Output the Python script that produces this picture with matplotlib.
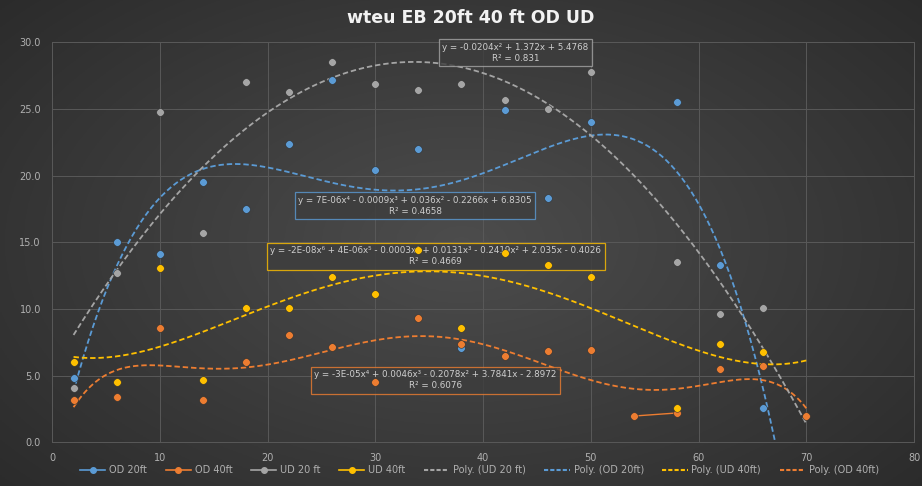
import numpy as np
import matplotlib
matplotlib.use("Agg")
import matplotlib.pyplot as plt
from matplotlib.lines import Line2D

x = np.array([2, 6, 10, 14, 18, 22, 26, 30, 34, 38, 42, 46, 50, 54, 58, 62, 66, 70], dtype=float)
nan = np.nan
od20 = np.array([4.8, 15.0, 14.1, 19.5, 17.5, 22.4, 27.2, 20.4, 22.0, 7.1, 24.9, 18.3, 24.0, nan, 25.5, 13.3, 2.6, nan])
od40 = np.array([3.2, 3.4, 8.6, 3.2, 6.0, 8.05, 7.15, 4.55, 9.3, 7.35, 6.5, 6.85, 6.9, 1.97, 2.2, 5.5, 5.7, 2.0])
ud20 = np.array([4.1, 12.7, 24.8, 15.7, 27.05, 26.25, 28.55, 26.9, 26.4, 26.9, 25.7, 25.0, 27.8, nan, 13.5, 9.65, 10.1, nan])
ud40 = np.array([6.0, 4.55, 13.1, 4.65, 10.05, 10.1, 12.4, 11.15, 14.4, 8.55, 14.2, 13.3, 12.4, nan, 2.55, 7.4, 6.8, nan])

names = ["OD 20ft", "OD 40ft", "UD 20 ft", "UD 40ft"]
colors = ["#5B9BD5", "#ED7D31", "#A5A5A5", "#FFC000"]
degrees = [4, 6, 2, 4]

equations = {
    "UD 20 ft": "y = -0.0204x\u00b2 + 1.372x + 5.4768\nR\u00b2 = 0.831",
    "OD 20ft": "y = 7E-06x\u2074 - 0.0009x\u00b3 + 0.036x\u00b2 - 0.2266x + 6.8305\nR\u00b2 = 0.4658",
    "UD 40ft": "y = -2E-08x\u2076 + 4E-06x\u2075 - 0.0003x\u2074 + 0.0131x\u00b3 - 0.2419x\u00b2 + 2.035x - 0.4026\nR\u00b2 = 0.4669",
    "OD 40ft": "y = -3E-05x\u2074 + 0.0046x\u00b3 - 0.2078x\u00b2 + 3.7841x - 2.8972\nR\u00b2 = 0.6076",
}
eq_pos = {"UD 20 ft": (43.0, 29.2), "OD 20ft": (33.7, 17.75),
          "UD 40ft": (35.6, 13.95), "OD 40ft": (35.6, 4.65)}

fig = plt.figure(figsize=(9.22, 4.86), dpi=100)

# dark radial gradient background
bg = fig.add_axes([0, 0, 1, 1], zorder=-10)
gx, gy = np.meshgrid(np.linspace(-1, 1, 400), np.linspace(-1, 1, 220))
r = np.sqrt((gx * 0.9) ** 2 + (gy * 0.8) ** 2)
shade = 0.30 - 0.14 * np.clip(r, 0, 1.3) / 1.3
bg.imshow(np.dstack([shade, shade, shade]), aspect="auto", extent=[0, 1, 0, 1])
bg.axis("off")

ax = fig.add_axes([0.0564, 0.0899, 0.935, 0.8232])
ax.set_facecolor("none")
ax.set_xlim(0, 80)
ax.set_ylim(0, 30)
ax.set_xticks(np.arange(0, 81, 10))
ax.set_yticks(np.arange(0, 31, 5))
ax.set_yticklabels([f"{v:.1f}" for v in np.arange(0, 31, 5)])
ax.grid(True, color="#595959", linewidth=0.7)
ax.set_axisbelow(True)
for s in ax.spines.values():
    s.set_color("#595959")
    s.set_linewidth(0.7)
ax.tick_params(colors="#b0b0b0", labelsize=7, length=0, pad=8)

xs = np.linspace(2, 70, 300)
series = [od20, od40, ud20, ud40]
for name, y, c, d in zip(names, series, colors, degrees):
    ax.plot(x, y, "o", color=c, markersize=5.5, markeredgecolor="#303030",
            markeredgewidth=0.4, zorder=5)
    m = ~np.isnan(y)
    coef = np.polyfit(x[m], y[m], d)
    ax.plot(xs, np.polyval(coef, xs), "--", color=c, linewidth=1.3,
            dashes=(3, 1.6), zorder=3)
    ex, ey = eq_pos[name]
    ax.text(ex, ey, equations[name], ha="center", va="center", fontsize=6.3,
            color="#cfcfcf", linespacing=1.3, zorder=4.5,
            bbox=dict(boxstyle="square,pad=0.4", facecolor="#3d3d3d",
                      edgecolor=c, linewidth=0.9, alpha=0.8))

# the only two adjacent cells in OD 40ft get joined by a line
ax.plot(x[13:15], od40[13:15], "-", color=colors[1], linewidth=1, zorder=4)

fig.text(0.51, 0.963, "wteu EB 20ft 40 ft OD UD", ha="center", va="center",
         fontsize=12.5, fontweight="bold", color="#f2f2f2")

handles = []
labels = []
for name, c in zip(names, colors):
    handles.append(Line2D([], [], color=c, marker="o", markersize=4, linewidth=1.2))
    labels.append(name)
for name, c in [("UD 20 ft", colors[2]), ("OD 20ft", colors[0]),
                ("UD 40ft", colors[3]), ("OD 40ft", colors[1])]:
    handles.append(Line2D([], [], color=c, linestyle="--", dashes=(2, 1), linewidth=1.5))
    labels.append(f"Poly. ({name})")
fig.legend(handles, labels, loc="center", bbox_to_anchor=(0.52, 0.033),
           ncol=8, frameon=False, fontsize=7, handlelength=2.6,
           columnspacing=1.9, handletextpad=0.4, labelcolor="#b0b0b0")

fig.savefig("out.png", dpi=100)
